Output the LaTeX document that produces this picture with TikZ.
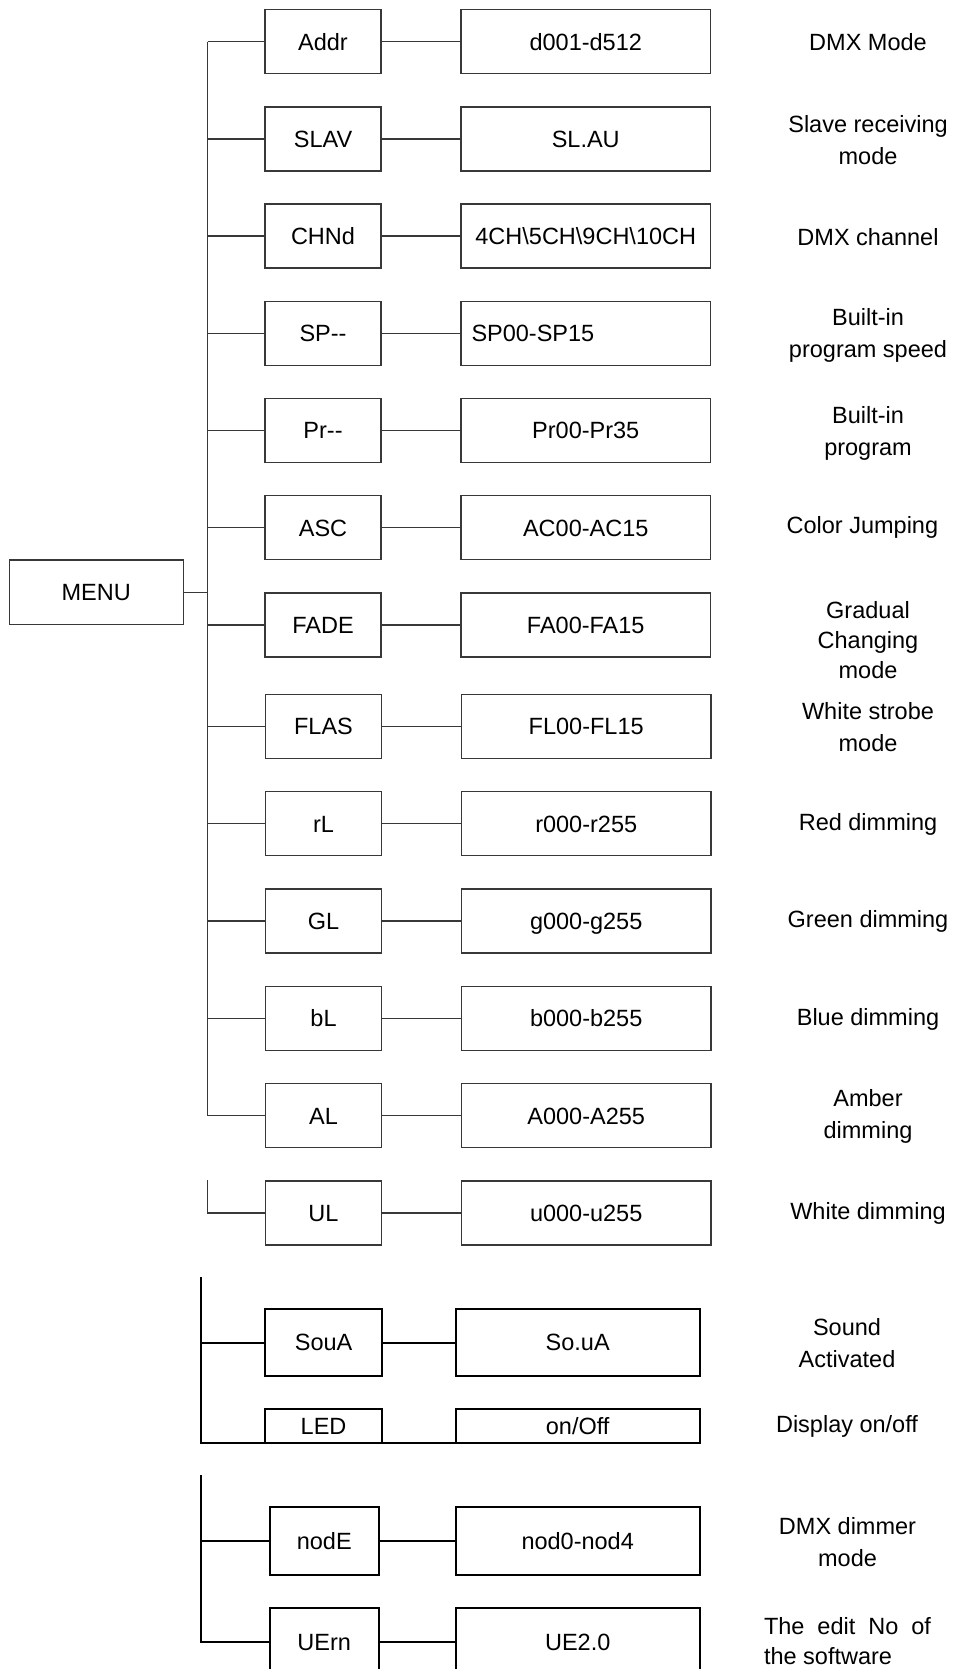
\documentclass[tikz,border=0pt]{standalone}
\usepackage{fontspec}
\setmainfont{Liberation Sans}
\begin{document}
\begin{tikzpicture}[x=1pt,y=-1pt,
  every node/.style={font=\fontsize{23.5}{32}\selectfont},
  tline/.style={draw=black!78, line width=1.3pt},
  bline/.style={draw=black, line width=2pt},
  lbox/.style={draw=black!78, line width=1.3pt, minimum width=116pt, minimum height=64pt,
    inner sep=0pt, text height=16.8pt, text depth=0pt},
  rbox/.style={lbox, minimum width=249.5pt},
  lboxb/.style={draw=black, line width=2pt, minimum width=116.7pt, minimum height=67pt,
    inner sep=0pt, text height=16.8pt, text depth=0pt},
  rboxb/.style={lboxb, minimum width=244pt},
  note/.style={align=center, inner sep=0pt}]
\useasboundingbox (0,0) rectangle (954,1669);
\clip (0,0) rectangle (954,1669);

% MENU
\node[lbox, minimum width=174pt, minimum height=64.5pt] (menu) at (96.2,592.3) {MENU};

% rows
\node[lbox] (addr) at (323,41.7) {Addr};
\node[rbox] (addrv) at (585.75,41.7) {d001-d512};
\node[note] (addrn) at (868,42) {DMX Mode};

\node[lbox] (slav) at (323,138.9) {SLAV};
\node[rbox] (slavv) at (585.75,138.9) {SL.AU};
\node[note] (slavn) at (868,140) {Slave receiving\\mode};

\node[lbox] (chnd) at (323,236.1) {CHNd};
\node[rbox] (chndv) at (585.75,236.1) {4CH\textbackslash 5CH\textbackslash 9CH\textbackslash 10CH};
\node[note] (chndn) at (868,237) {DMX channel};

\node[lbox] (sp) at (323,333.3) {SP-{}-};
\node[rbox, inner xsep=10.5pt, text width=228.5pt, align=left] (spv) at (585.75,333.3) {SP00-SP15};
\node[note] (spn) at (868,335) {Built-in\\program speed};

\node[lbox] (pr) at (323,430.5) {Pr-{}-};
\node[rbox] (prv) at (585.75,430.5) {Pr00-Pr35};
\node[note] (prn) at (868,433) {Built-in\\program};

\node[lbox] (asc) at (323,527.7) {ASC};
\node[rbox] (ascv) at (585.75,527.7) {AC00-AC15};
\node[note] (ascn) at (862.4,527.7) {Color Jumping};

\node[lbox] (fade) at (323,624.9) {FADE};
\node[rbox] (fadev) at (585.75,624.9) {FA00-FA15};
\node[note, font=\fontsize{23.5}{29.7}\selectfont] (faden) at (868,640) {Gradual\\Changing\\mode};

\node[lbox] (flas) at (323.5,726.5) {FLAS};
\node[rbox] (flasv) at (586.2,726.5) {FL00-FL15};
\node[note] (flasn) at (868,727) {White strobe\\mode};

\node[lbox] (rl) at (323.5,823.8) {rL};
\node[rbox] (rlv) at (586.2,823.8) {r000-r255};
\node[note] (rln) at (868,824) {Red dimming};

\node[lbox] (gl) at (323.5,921.1) {GL};
\node[rbox] (glv) at (586.2,921.1) {g000-g255};
\node[note] (gln) at (868,921) {Green dimming};

\node[lbox] (bl) at (323.5,1018.4) {bL};
\node[rbox] (blv) at (586.2,1018.4) {b000-b255};
\node[note] (bln) at (868,1019) {Blue dimming};

\node[lbox] (al) at (323.5,1115.7) {AL};
\node[rbox] (alv) at (586.2,1115.7) {A000-A255};
\node[note] (aln) at (868,1116) {Amber\\dimming};

\node[lbox] (ul) at (323.5,1213) {UL};
\node[rbox] (ulv) at (586.2,1213) {u000-u255};
\node[note] (uln) at (868,1213) {White dimming};

% trunk
\coordinate (ttop) at (207.5,41.7);
\coordinate (tbot) at (207.5,1115.7);
\draw[tline] (ttop) -- (tbot);
\draw[tline] (menu.east) -- (menu.east -| ttop);
\foreach \n in {addr,slav,chnd,sp,pr,asc,fade,flas,rl,gl,bl,al,ul}{
  \draw[tline] (\n) -- (\n v);
}
\foreach \n in {addr,slav,chnd,sp,pr,asc,fade,flas,rl,gl,bl,al}{
  \draw[tline] (\n.west -| ttop) -- (\n.west);
}
\coordinate (ulstub) at (207.7,1180);
\draw[tline] (ulstub) |- (ul.west);

% group 2
\coordinate (g2top) at (201.4,1277);
\coordinate (g2bot) at (201.4,1443);
\node[lboxb] (soua) at (323.6,1342.5) {SouA};
\node[rboxb] (souav) at (577.7,1342.5) {So.uA};
\node[note] (souan) at (847,1343.4) {Sound\\Activated};
\node[lboxb, minimum height=34pt] (led) at (323.6,1426) {LED};
\node[rboxb, minimum height=34pt] (onoff) at (577.7,1426) {on/Off};
\node[note] (ledn) at (847,1426.7) {Display on/off};
\draw[bline] (g2top) -- (g2bot) -- (g2bot -| onoff.east);
\draw[bline] (soua.west -| g2top) -- (soua.west);
\draw[bline] (soua) -- (souav);

% group 3
\coordinate (g3top) at (201.4,1475);
\node[lboxb, minimum width=109.5pt, minimum height=68pt] (node) at (324.25,1541) {nodE};
\node[rboxb, minimum height=68pt] (nodev) at (577.7,1541) {nod0-nod4};
\node[note] (noden) at (847.5,1542.4) {DMX dimmer\\mode};
\node[lboxb, minimum width=109.5pt, minimum height=68pt] (uern) at (324.25,1642.3) {UErn};
\node[rboxb, minimum height=68pt] (uernv) at (577.7,1642.3) {UE2.0};
\node[note, align=left, font=\fontsize{23.5}{30}\selectfont] (uernn) at (847.5,1641) {\makebox[167pt][s]{The edit No of}\\the software};
\draw[bline] (g3top) |- (uern.west);
\draw[bline] (node.west -| g3top) -- (node.west);
\draw[bline] (node) -- (nodev);
\draw[bline] (uern) -- (uernv);
\end{tikzpicture}
\end{document}
